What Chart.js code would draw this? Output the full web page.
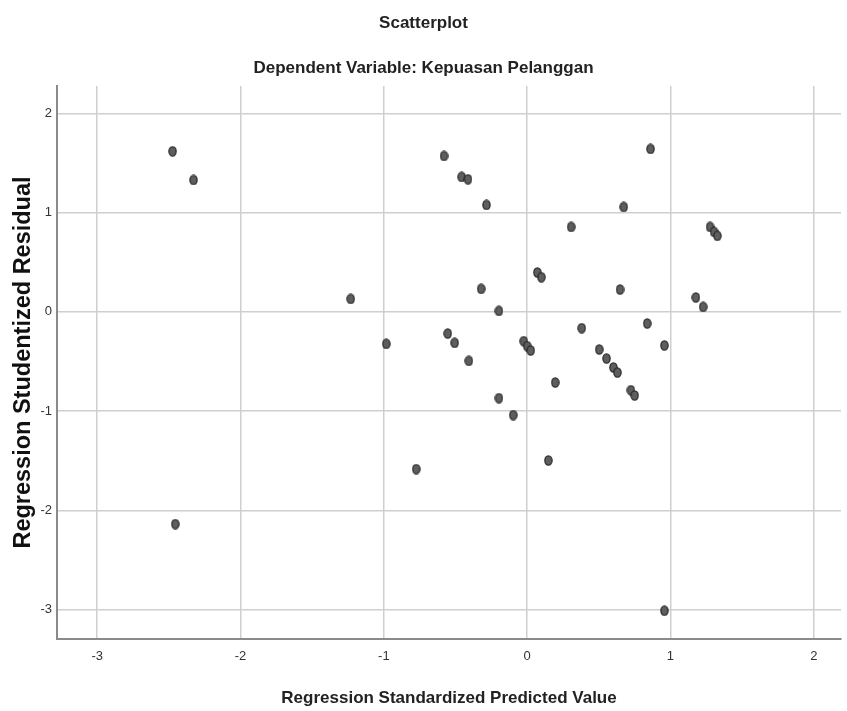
<!DOCTYPE html>
<html>
<head>
<meta charset="utf-8">
<script src="https://cdn.jsdelivr.net/npm/chart.js@4.4.1/dist/chart.umd.min.js"></script>
<style>
    body { margin: 0; background: #ffffff; }
    canvas { display: block; }
</style>
</head>
<body>
<canvas id="chart1" width="847" height="711"></canvas>
<script>
var predicted = [-2.474, -2.328, -2.455, -1.231, -0.983, -0.774, -0.580, -0.554, -0.506, -0.457, -0.413,
    -0.407, -0.321, -0.284, -0.197, -0.197, -0.097, -0.024, 0.000, 0.025, 0.071, 0.099,
    0.148, 0.196, 0.307, 0.381, 0.503, 0.554, 0.602, 0.630, 0.648, 0.674, 0.724,
    0.750, 0.838, 0.861, 0.958, 0.958, 1.177, 1.228, 1.276, 1.304, 1.327];
var residual = [1.618, 1.329, -2.138, 0.131, -0.322, -1.584, 1.571, -0.218, -0.312, 1.360, 1.336,
    -0.493, 0.232, 1.078, 0.010, -0.869, -1.040, -0.295, -0.345, -0.389, 0.397, 0.349,
    -1.497, -0.711, 0.856, -0.164, -0.379, -0.470, -0.560, -0.611, 0.225, 1.057, -0.789,
    -0.842, -0.117, 1.642, -0.338, -3.011, 0.145, 0.050, 0.856, 0.806, 0.766];
var xTicks = [-3, -2, -1, 0, 1, 2];
var yTicks = [-3, -2, -1, 0, 1, 2];

var sans = "'Liberation Sans', Arial, sans-serif";

function makeDot() {
    var c = document.createElement("canvas");
    c.width = 9;
    c.height = 11;
    var g = c.getContext("2d");
    g.beginPath();
    g.ellipse(4.5, 5.5, 3.6, 4.6, 0, 0, Math.PI * 2);
    g.fillStyle = "#5e5e5e";
    g.fill();
    g.lineWidth = 1.3;
    g.strokeStyle = "#2a2a2a";
    g.stroke();
    return c;
}

function fixedTicks(values) {
    return function (scale) {
        scale.ticks = values.map(function (v) { return { value: v }; });
    };
}

var points = predicted.map(function (x, i) { return { x: x, y: residual[i] }; });

var ctx = document.getElementById("chart1");
var chartGraph = new Chart(ctx, {
    type: "scatter",
    data: {
        datasets: [{
            data: points,
            pointStyle: makeDot(),
            pointRadius: 5
        }]
    },
    options: {
        responsive: false,
        animation: false,
        layout: { padding: 0 },
        plugins: {
            legend: { display: false },
            tooltip: { enabled: false },
            title: {
                display: true,
                text: "Scatterplot",
                color: "#222222",
                font: { family: sans, size: 17, weight: "bold" },
                padding: { top: 13, bottom: 12 }
            },
            subtitle: {
                display: true,
                text: "Dependent Variable: Kepuasan Pelanggan",
                color: "#222222",
                font: { family: sans, size: 17, weight: "bold" },
                padding: { top: 12.4, bottom: 7.8 }
            }
        },
        scales: {
            x: {
                type: "linear",
                min: -3.2805,
                max: 2.19,
                afterBuildTicks: fixedTicks(xTicks),
                afterFit: function (scale) { scale.height = 72; },
                grid: { color: "#cfcfcf", lineWidth: 1.5, drawTicks: false },
                border: { color: "#8a8a8a", width: 2 },
                ticks: {
                    color: "#333333",
                    padding: 10,
                    font: { family: sans, size: 13 }
                },
                title: {
                    display: true,
                    text: "Regression Standardized Predicted Value",
                    color: "#222222",
                    font: { family: sans, size: 17, weight: "bold" },
                    padding: { top: 0, bottom: 2 }
                }
            },
            y: {
                type: "linear",
                min: -3.296,
                max: 2.276,
                afterBuildTicks: fixedTicks(yTicks),
                afterFit: function (scale) { scale.width = 57; },
                grid: { color: "#cfcfcf", lineWidth: 1.5, drawTicks: false },
                border: { color: "#8a8a8a", width: 2 },
                ticks: {
                    color: "#333333",
                    padding: 5,
                    font: { family: sans, size: 13 }
                },
                title: {
                    display: true,
                    text: "Regression Studentized Residual",
                    color: "#111111",
                    font: { family: sans, size: 23.5, weight: "bold" },
                    padding: { top: 9, bottom: 0 }
                }
            }
        }
    }
});
</script>
</body>
</html>
